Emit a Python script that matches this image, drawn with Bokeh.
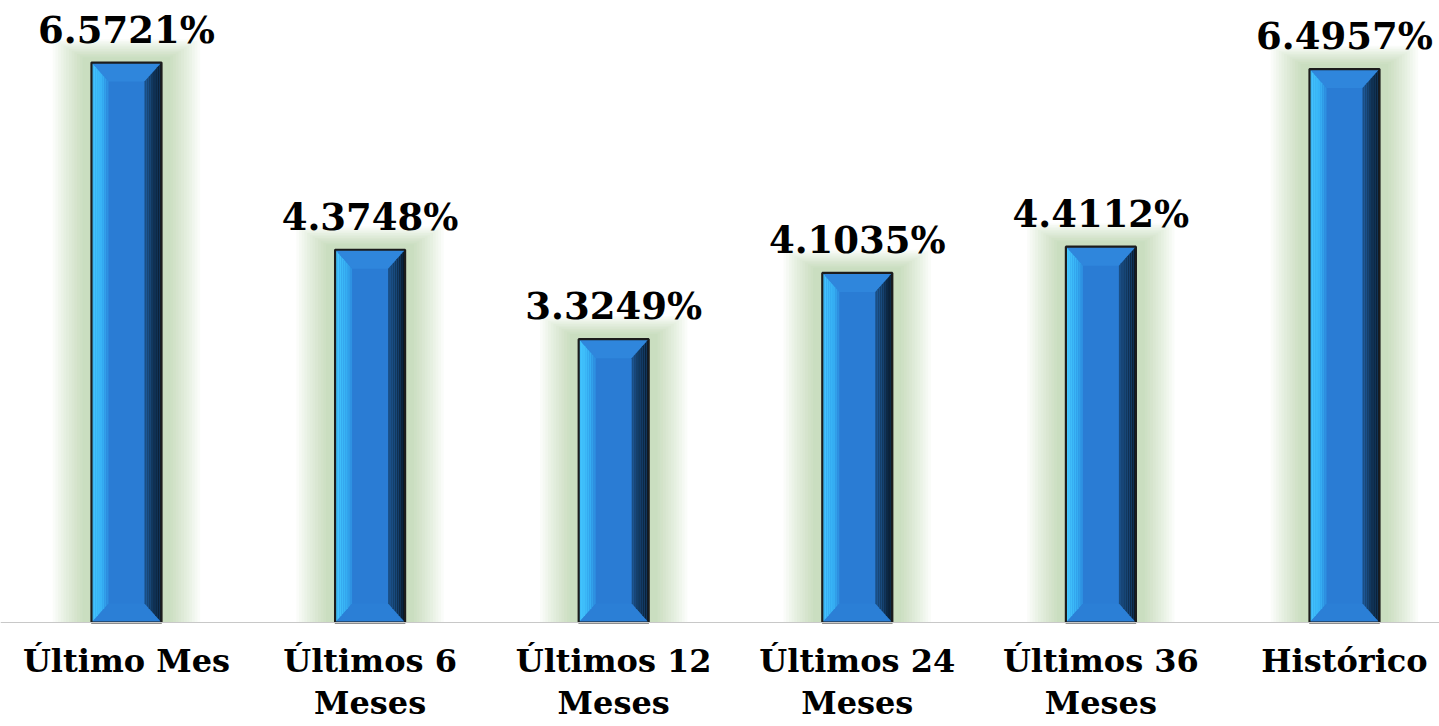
from bokeh.plotting import figure
from bokeh.models import Range1d, ColumnDataSource, Span
from bokeh.core.properties import value as pval
from bokeh.embed import file_html
from bokeh.resources import INLINE

# ---- data ----
categories = ["Último Mes", "Últimos 6\nMeses", "Últimos 12\nMeses",
              "Últimos 24\nMeses", "Últimos 36\nMeses", "Histórico"]
values = [6.5721, 4.3748, 3.3249, 4.1035, 4.4112, 6.4957]
value_labels = ["6.5721%", "4.3748%", "3.3249%", "4.1035%", "4.4112%", "6.4957%"]

# ---- layout ----
W, H = 1439, 726
X0, X1 = -0.5172, 5.390
Y0, Y1 = -1.2207, 7.3005
sx = (X1 - X0) / W   # data units per pixel (x)
sy = (Y1 - Y0) / H   # data units per pixel (y)

FONT = "DejaVu Serif"

p = figure(width=W, height=H, x_range=Range1d(X0, X1), y_range=Range1d(Y0, Y1),
           x_axis_type=None, y_axis_type=None, output_backend="svg",
           toolbar_location=None, min_border=0, outline_line_color=None,
           background_fill_color="white", border_fill_color="white")
p.grid.visible = False

xs = list(range(len(values)))
hw = 35 * sx          # half bar width
bx = 17 * sx          # bevel width
by = 19 * sy          # bevel height

# glow
glow_layers = 12
for k in range(glow_layers):
    e = 9 + k * 2.7
    p.quad(left=[x - hw - e * sx for x in xs], right=[x + hw + e * sx for x in xs],
           top=[v + e * 0.6 * sy for v in values], bottom=[0] * len(xs),
           fill_color="#7fb870", fill_alpha=0.038, line_color=None)

# baseline
p.add_layout(Span(location=0, dimension="width", line_color="#c8c8c8", line_width=1.2))

# face
p.quad(left=[x - hw for x in xs], right=[x + hw for x in xs], top=values,
       bottom=[0] * len(xs), fill_color="#2a7cd4", line_color=None)

# top and bottom bevels
tx, ty, bxs, bys = [], [], [], []
for x, v in zip(xs, values):
    tx.append([x - hw, x + hw, x + hw - bx, x - hw + bx])
    ty.append([v, v, v - by, v - by])
    bxs.append([x - hw, x + hw, x + hw - bx, x - hw + bx])
    bys.append([0, 0, by, by])
p.patches(tx, ty, fill_color="#2f86dc", line_color=None)
p.patches(bxs, bys, fill_color="#2b7fd6", line_color=None)


def lerp(c1, c2, t):
    a = [int(c1[i:i + 2], 16) for i in (1, 3, 5)]
    b = [int(c2[i:i + 2], 16) for i in (1, 3, 5)]
    return "#%02x%02x%02x" % tuple(round(a[j] + (b[j] - a[j]) * t) for j in range(3))


# side bevels with gradient slices
N = 8
for side in ("left", "right"):
    for i in range(N):
        fa, fb = i / N, (i + 1) / N
        sxs, sys = [], []
        for x, v in zip(xs, values):
            if side == "left":
                a, b = x - hw + fa * bx, x - hw + fb * bx
            else:
                a, b = x + hw - fa * bx, x + hw - fb * bx
            sxs.append([a, b, b, a])
            sys.append([v - fa * by, v - fb * by, fb * by, fa * by])
        if side == "left":
            col = lerp("#44c8ff", "#36b0f4", fa / 0.6) if fa < 0.6 else lerp("#36b0f4", "#2a84da", (fa - 0.6) / 0.4)
        else:
            col = lerp("#081a2c", "#1d5590", fa)
        p.patches(sxs, sys, fill_color=col, line_color=None)

# outline
p.quad(left=[x - hw for x in xs], right=[x + hw for x in xs], top=values,
       bottom=[0] * len(xs), fill_color=None, line_color="#1c1c1c", line_width=2.2)

# value labels
src = ColumnDataSource(dict(x=xs, y=values, t=value_labels))
p.text(x="x", y="y", text="t", source=src, text_align="center", text_baseline="bottom",
       y_offset=-11, text_font=pval(FONT), text_font_style="bold",
       text_font_size="37px", text_color="#000000")

# category labels
csrc = ColumnDataSource(dict(x=xs, y=[0] * len(xs), t=categories))
p.text(x="x", y="y", text="t", source=csrc, text_align="center", text_baseline="top",
       y_offset=20, text_font=pval(FONT), text_font_style="bold",
       text_font_size="32px", text_line_height=1.1, text_color="#000000")

open("out.html", "w").write(file_html(p, INLINE))
